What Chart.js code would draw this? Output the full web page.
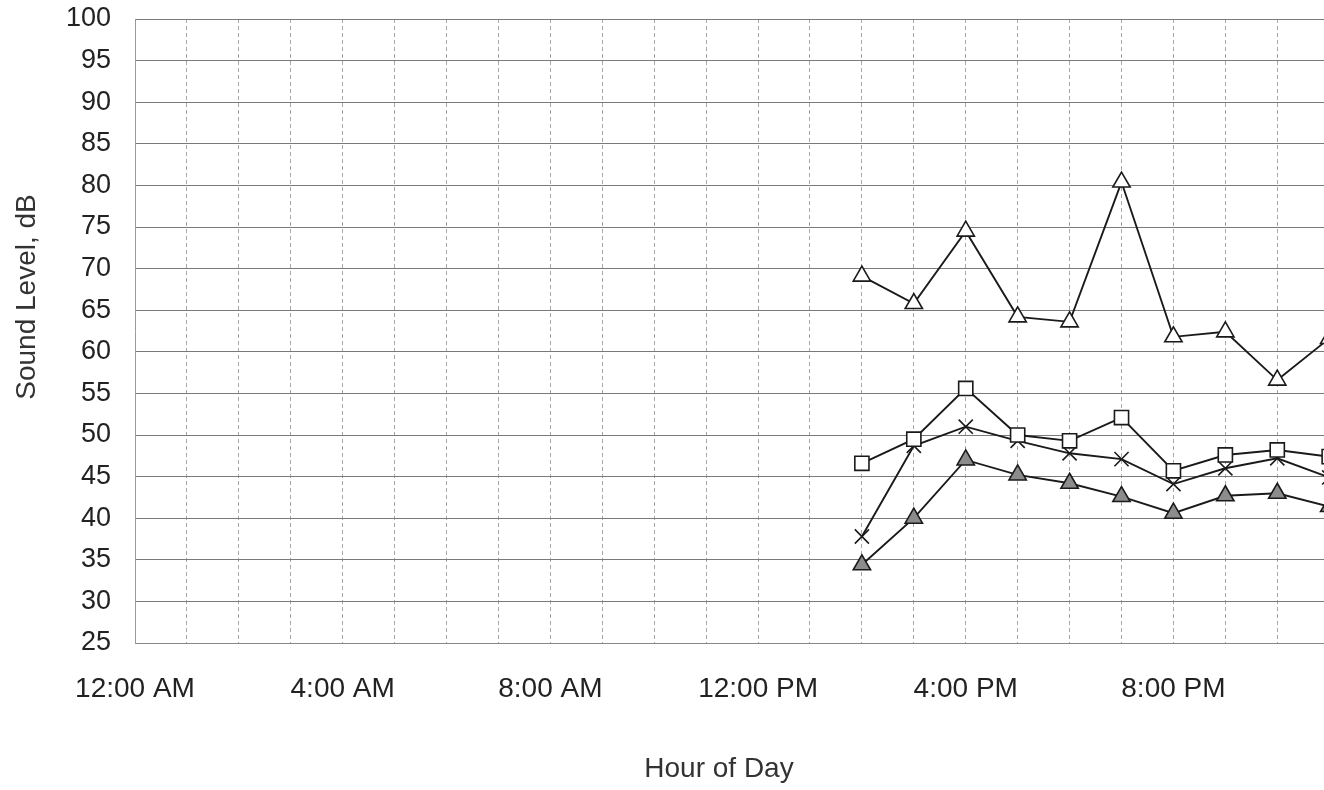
<!DOCTYPE html>
<html>
<head>
<meta charset="utf-8">
<script src="https://cdn.jsdelivr.net/npm/chart.js@4"></script>
<style>
  html, body { margin: 0; padding: 0; background: #fff; }
</style>
</head>
<body>
<canvas id="chart" width="1324" height="790"></canvas>
<script>
// hour of day (0 = midnight)
const hours = [14, 15, 16, 17, 18, 19, 20, 21, 22, 23];
const openTriangle = [69.1, 65.8, 74.5, 64.2, 63.6, 80.4, 61.8, 62.4, 56.6, 61.6];
const square = [46.6, 49.5, 55.6, 50.0, 49.3, 52.1, 45.7, 47.6, 48.2, 47.4];
const cross = [37.8, 48.7, 51.0, 49.3, 47.8, 47.1, 44.1, 46.0, 47.2, 44.9];
const filledTriangle = [34.4, 40.0, 47.0, 45.2, 44.2, 42.6, 40.6, 42.7, 43.0, 41.4];
const tickLabels = ['12:00 AM', '4:00 AM', '8:00 AM', '12:00 PM', '4:00 PM', '8:00 PM'];

const font = "'Liberation Sans', Arial, sans-serif";

function pts(vals) {
  return hours.map((h, i) => ({ x: h, y: vals[i] }));
}

function series(vals, style, fill) {
  return {
    data: pts(vals),
    borderColor: '#1a1a1a',
    borderWidth: 1.9,
    pointStyle: style,
    pointRadius: 10,
    pointBorderWidth: 1.6,
    pointBackgroundColor: fill,
    pointBorderColor: '#1a1a1a',
    tension: 0
  };
}

function noPad(s) {
  s.paddingTop = 0;
  s.paddingBottom = 0;
  s.paddingLeft = 0;
  s.paddingRight = 0;
}

// axis titles sit off-centre in the original (plot is cut off on the right)
const axisTitles = {
  id: 'axisTitles',
  afterDraw(c) {
    const ctx = c.ctx;
    ctx.save();
    ctx.font = '28px ' + font;
    ctx.fillStyle = '#333';
    ctx.textAlign = 'center';
    ctx.textBaseline = 'middle';
    ctx.fillText('Hour of Day', 719, 769);
    ctx.translate(27, 297);
    ctx.rotate(-Math.PI / 2);
    ctx.fillText('Sound Level, dB', 0, 0);
    ctx.restore();
  }
};

new Chart(document.getElementById('chart'), {
  type: 'line',
  data: {
    datasets: [
      series(openTriangle, 'triangle', '#fff'),
      series(square, 'rect', '#fff'),
      series(cross, 'crossRot', '#fff'),
      series(filledTriangle, 'triangle', '#8c8c8c')
    ]
  },
  options: {
    responsive: false,
    animation: false,
    layout: { autoPadding: false, padding: { top: 19, right: 0, left: 0, bottom: 0 } },
    plugins: { legend: { display: false }, tooltip: { enabled: false } },
    scales: {
      x: {
        type: 'linear',
        min: 0,
        max: 22.9,
        afterFit(s) { s.height = 147; noPad(s); },
        grid: { color: '#a8a8a8', drawTicks: false },
        border: { color: '#888', dash: [4, 3] },
        ticks: {
          stepSize: 1,
          includeBounds: false,
          autoSkip: false,
          maxRotation: 0,
          padding: 29,
          color: '#222',
          font: { family: font, size: 28 },
          callback: v => (v % 4 === 0 ? tickLabels[v / 4] : '')
        }
      },
      y: {
        min: 25,
        max: 100,
        afterFit(s) { s.width = 135; noPad(s); },
        grid: { color: '#7a7a7a', drawTicks: false },
        border: { color: '#999' },
        ticks: {
          stepSize: 5,
          padding: 24,
          color: '#222',
          font: { family: font, size: 27 }
        }
      }
    }
  },
  plugins: [axisTitles]
});
</script>
</body>
</html>
